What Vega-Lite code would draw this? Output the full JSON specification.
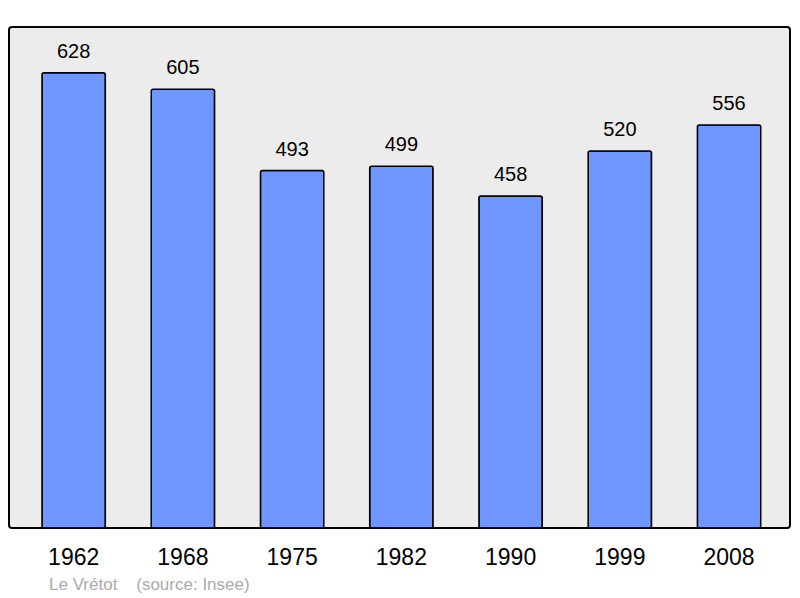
{
  "$schema": "https://vega.github.io/schema/vega-lite/v6.json",
  "width": 781,
  "height": 501,
  "autosize": "none",
  "padding": {"left": 9, "top": 27, "right": 10, "bottom": 70},
  "background": "white",
  "config": {
    "font": "Liberation Sans",
    "view": {"fill": "#ececec", "stroke": "black", "strokeWidth": 2, "cornerRadius": 3}
  },
  "title": {
    "text": "Le Vrétot\u00a0\u00a0\u00a0\u00a0(source: Insee)",
    "orient": "bottom",
    "anchor": "start",
    "frame": "group",
    "dx": 40,
    "offset": 8,
    "fontSize": 17,
    "fontWeight": "normal",
    "color": "#aaaaaa"
  },
  "data": {
    "values": [
      {"year": "1962", "pop": 628},
      {"year": "1968", "pop": 605},
      {"year": "1975", "pop": 493},
      {"year": "1982", "pop": 499},
      {"year": "1990", "pop": 458},
      {"year": "1999", "pop": 520},
      {"year": "2008", "pop": 556}
    ]
  },
  "encoding": {
    "x": {
      "field": "year",
      "type": "ordinal",
      "sort": null,
      "scale": {"paddingInner": 0.42, "paddingOuter": 0.285, "align": 0.53},
      "axis": {
        "title": null,
        "domain": false,
        "ticks": false,
        "labelAngle": 0,
        "labelFontSize": 23,
        "labelColor": "black",
        "labelPadding": 18
      }
    },
    "y": {
      "field": "pop",
      "type": "quantitative",
      "scale": {"domain": [0, 691], "nice": false},
      "axis": null
    }
  },
  "layer": [
    {
      "mark": {"type": "bar", "color": "#7097ff", "stroke": "black", "strokeWidth": 1.5, "cornerRadius": 2}
    },
    {
      "mark": {"type": "text", "dy": -21, "fontSize": 20, "color": "black"},
      "encoding": {"text": {"field": "pop", "type": "quantitative"}}
    }
  ]
}
